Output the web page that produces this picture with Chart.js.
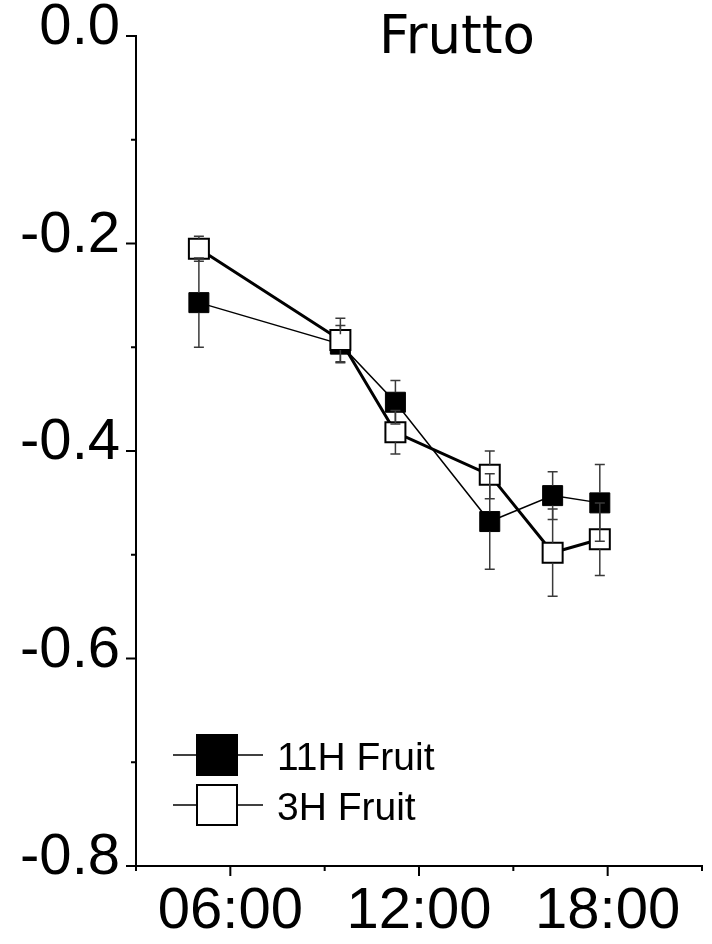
<!DOCTYPE html>
<html>
<head>
<meta charset="utf-8">
<script src="https://cdn.jsdelivr.net/npm/chart.js@4/dist/chart.umd.min.js"></script>
<style>
  html, body { margin: 0; padding: 0; background: #fff; }
  #frutto { display: block; }
</style>
</head>
<body>
<canvas id="frutto" width="712" height="944"></canvas>
<script>
// sampling times (hours of the day)
const sampleHours = [5.0, 9.5, 11.25, 14.25, 16.25, 17.75];

// 11H Fruit
const fruit11H = [-0.257, -0.297, -0.353, -0.468, -0.443, -0.450];
const fruit11HErr = [0.043, 0.018, 0.021, 0.046, 0.023, 0.037];

// 3H Fruit
const fruit3H = [-0.205, -0.293, -0.382, -0.423, -0.498, -0.485];
const fruit3HErr = [0.012, 0.021, 0.021, 0.023, 0.042, 0.035];

const xTickHours = [6, 12, 18];
const xTickLabels = ['06:00', '12:00', '18:00'];
const yTickLabels = ['0.0', '-0.2', '-0.4', '-0.6', '-0.8'];

const FONT = '"Liberation Sans", Arial, sans-serif';
const SQ = 20; // marker side in px

function toPoints(values) {
    return values.map((v, i) => ({ x: sampleHours[i], y: v }));
}

// error bars start at the marker edge, caps 10px wide
const errorBars = {
    id: 'errorBars',
    afterDatasetsDraw(chart) {
        const { ctx, scales: { y } } = chart;
        ctx.save();
        ctx.strokeStyle = '#3a3a3a';
        ctx.lineWidth = 1.5;
        chart.data.datasets.forEach((ds, di) => {
            const meta = chart.getDatasetMeta(di);
            meta.data.forEach((pt, i) => {
                const v = ds.data[i].y;
                const e = ds.errors[i];
                const top = y.getPixelForValue(v + e);
                const bot = y.getPixelForValue(v - e);
                ctx.beginPath();
                if (top < pt.y - SQ / 2) {
                    ctx.moveTo(pt.x, pt.y - SQ / 2); ctx.lineTo(pt.x, top);
                    ctx.moveTo(pt.x - 5, top); ctx.lineTo(pt.x + 5, top);
                }
                if (bot > pt.y + SQ / 2) {
                    ctx.moveTo(pt.x, pt.y + SQ / 2); ctx.lineTo(pt.x, bot);
                    ctx.moveTo(pt.x - 5, bot); ctx.lineTo(pt.x + 5, bot);
                }
                ctx.stroke();
            });
        });
        ctx.restore();
    }
};

// outward tick marks: long on labelled values, short in between
const axisTicks = {
    id: 'axisTicks',
    afterDraw(chart) {
        const { ctx, chartArea, scales: { x, y } } = chart;
        ctx.save();
        ctx.strokeStyle = '#000';
        ctx.lineWidth = 2;
        ctx.beginPath();
        y.ticks.forEach(t => {
            const py = y.getPixelForValue(t.value);
            const len = Math.round(t.value * 10) % 2 === 0 ? 10 : 5;
            ctx.moveTo(chartArea.left - len, py);
            ctx.lineTo(chartArea.left, py);
        });
        x.ticks.forEach(t => {
            const px = x.getPixelForValue(t.value);
            const len = t.value % 6 === 0 ? 10 : 5;
            ctx.moveTo(px, chartArea.bottom);
            ctx.lineTo(px, chartArea.bottom + len);
        });
        ctx.stroke();
        ctx.restore();
    }
};

// title and the legend box inside the plot
const annotations = {
    id: 'annotations',
    afterDraw(chart) {
        const { ctx, chartArea } = chart;
        ctx.save();
        ctx.fillStyle = '#000';
        ctx.font = '53px "DejaVu Sans", sans-serif';
        ctx.textAlign = 'center';
        ctx.textBaseline = 'alphabetic';
        ctx.fillText('Frutto', chartArea.left + 321, chartArea.top + 17);

        const rows = [
            { ds: chart.data.datasets[0], y: chartArea.bottom - 111 },
            { ds: chart.data.datasets[1], y: chartArea.bottom - 61 }
        ];
        ctx.font = '39px ' + FONT;
        ctx.textAlign = 'left';
        rows.forEach(r => {
            const cx = chartArea.left + 81;
            ctx.strokeStyle = '#000';
            ctx.lineWidth = 1.5;
            ctx.beginPath();
            ctx.moveTo(chartArea.left + 37, r.y);
            ctx.lineTo(chartArea.left + 127, r.y);
            ctx.stroke();
            ctx.fillStyle = r.ds.pointBackgroundColor;
            ctx.fillRect(cx - 20, r.y - 20, 40, 40);
            ctx.lineWidth = 2;
            ctx.strokeRect(cx - 20, r.y - 20, 40, 40);
            ctx.fillStyle = '#000';
            ctx.fillText(r.ds.label, chartArea.left + 141, r.y + 15);
        });
        ctx.restore();
    }
};

new Chart(document.getElementById('frutto'), {
    type: 'line',
    data: {
        datasets: [
            {
                label: '11H Fruit',
                data: toPoints(fruit11H),
                errors: fruit11HErr,
                borderColor: '#000',
                borderWidth: 1.5,
                pointStyle: 'rect',
                pointRadius: SQ / Math.SQRT2,
                pointBackgroundColor: '#000',
                pointBorderColor: '#000',
                pointBorderWidth: 1,
                order: 1
            },
            {
                label: '3H Fruit',
                data: toPoints(fruit3H),
                errors: fruit3HErr,
                borderColor: '#000',
                borderWidth: 3,
                pointStyle: 'rect',
                pointRadius: SQ / Math.SQRT2,
                pointBackgroundColor: '#fff',
                pointBorderColor: '#000',
                pointBorderWidth: 2,
                order: 0
            }
        ]
    },
    options: {
        responsive: false,
        animation: false,
        layout: { autoPadding: false, padding: { top: 36, right: 10, left: 0, bottom: 0 } },
        plugins: {
            legend: { display: false },
            tooltip: { enabled: false }
        },
        scales: {
            x: {
                type: 'linear',
                min: 3,
                max: 21,
                grid: { display: false, drawTicks: false },
                border: { display: true, color: '#000', width: 2 },
                ticks: {
                    stepSize: 3,
                    autoSkip: false,
                    maxRotation: 0,
                    padding: 11,
                    color: '#000',
                    font: { family: FONT, size: 58 },
                    callback: v => {
                        const i = xTickHours.indexOf(v);
                        return i >= 0 ? xTickLabels[i] : '';
                    }
                },
                afterFit: s => { s.height = 78; s.paddingLeft = 0; s.paddingRight = 0; }
            },
            y: {
                min: -0.8,
                max: 0,
                grid: { display: false, drawTicks: false },
                border: { display: true, color: '#000', width: 2 },
                ticks: {
                    stepSize: 0.1,
                    autoSkip: false,
                    padding: 16,
                    labelOffset: -8,
                    color: '#000',
                    font: { family: FONT, size: 58 },
                    callback: v => {
                        const k = Math.round(-v * 10);
                        return k % 2 === 0 ? yTickLabels[k / 2] : '';
                    }
                },
                afterFit: s => { s.width = 136; s.paddingTop = 0; s.paddingBottom = 0; }
            }
        }
    },
    plugins: [errorBars, axisTicks, annotations]
});
</script>
</body>
</html>
